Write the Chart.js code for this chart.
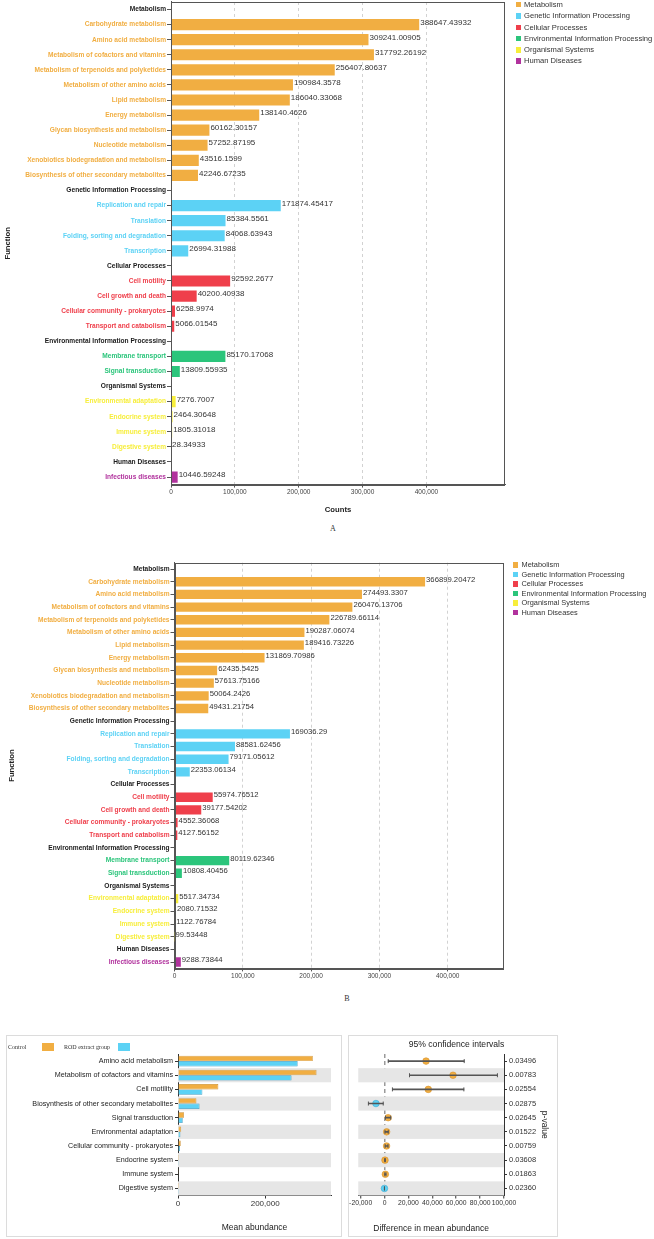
<!DOCTYPE html>
<html>
<head>
<meta charset="utf-8">
<script src="https://cdn.jsdelivr.net/npm/chart.js@4.4.1/dist/chart.umd.min.js"></script>
<style>
  body { margin: 0; width: 654px; height: 1239px; position: relative; overflow: hidden; background: #fff;
         font-family: "Liberation Sans", Arial, sans-serif; }
  canvas, .box, .legend, .tag { position: absolute; }
  .box { border: 1px solid #dcdcdc; box-sizing: border-box; }
  .tag { font-family: "Liberation Serif", serif; font-size: 8px; color: #333; transform: translate(-50%, -50%); }
  .legend div { position: absolute; white-space: nowrap; color: #333; line-height: 1; }
  .legend i { position: absolute; display: block; }
  .serif { font-family: "Liberation Serif", serif; }
</style>
</head>
<body>
<canvas id="chartA" width="654" height="520" style="left:0;top:0"></canvas>
<div class="tag" style="left:333px;top:528px">A</div>
<div class="legend" id="legendA"></div>

<canvas id="chartB" width="654" height="430" style="left:0;top:560px"></canvas>
<div class="tag" style="left:347px;top:998px">B</div>
<div class="legend" id="legendB"></div>

<div class="box" style="left:6px;top:1035px;width:336px;height:202px"></div>
<canvas id="chartC1" width="336" height="202" style="left:6px;top:1035px"></canvas>
<div class="legend serif" id="legendC" style="font-size:6px"></div>

<div class="box" style="left:348px;top:1035px;width:210px;height:202px"></div>
<canvas id="chartC2" width="210" height="202" style="left:348px;top:1035px"></canvas>

<script>
// KEGG level-2 functions, grouped by level-1 category
const groupNames = ["Metabolism", "Genetic Information Processing", "Cellular Processes",
  "Environmental Information Processing", "Organismal Systems", "Human Diseases"];
const groupColors = ["#F1AE42", "#5CD2F5", "#EF3F4B", "#2BC57B", "#F7EE3B", "#B1329D"];

const functionLabels = [
  "Metabolism", "Carbohydrate metabolism", "Amino acid metabolism", "Metabolism of cofactors and vitamins",
  "Metabolism of terpenoids and polyketides", "Metabolism of other amino acids", "Lipid metabolism",
  "Energy metabolism", "Glycan biosynthesis and metabolism", "Nucleotide metabolism",
  "Xenobiotics biodegradation and metabolism", "Biosynthesis of other secondary metabolites",
  "Genetic Information Processing", "Replication and repair", "Translation",
  "Folding, sorting and degradation", "Transcription",
  "Cellular Processes", "Cell motility", "Cell growth and death", "Cellular community - prokaryotes",
  "Transport and catabolism",
  "Environmental Information Processing", "Membrane transport", "Signal transduction",
  "Organismal Systems", "Environmental adaptation", "Endocrine system", "Immune system", "Digestive system",
  "Human Diseases", "Infectious diseases"
];
const rowGroup = [0,0,0,0,0,0,0,0,0,0,0,0, 1,1,1,1,1, 2,2,2,2,2, 3,3,3, 4,4,4,4,4, 5,5];

const countsA = [null, 388647.43932, 309241.00905, 317792.26192, 256407.80637, 190984.3578, 186040.33068,
  138140.4626, 60162.30157, 57252.87195, 43516.1599, 42246.67235,
  null, 171874.45417, 85384.5561, 84068.63943, 26994.31988,
  null, 92592.2677, 40200.40938, 6258.9974, 5066.01545,
  null, 85170.17068, 13809.55935,
  null, 7276.7007, 2464.30648, 1805.31018, 28.34933,
  null, 10446.59248];

const countsB = [null, 366899.20472, 274493.3307, 260476.13706, 226789.66114, 190287.06074, 189416.73226,
  131869.70986, 62435.5425, 57613.75166, 50064.2426, 49431.21754,
  null, 169036.29, 88581.62456, 79171.05612, 22353.06134,
  null, 55974.76512, 39177.54202, 4552.36068, 4127.56152,
  null, 80119.62346, 10808.40456,
  null, 5517.34734, 2080.71532, 1122.76784, 99.53448,
  null, 9288.73844];
const countTicks = [0, 100000, 200000, 300000, 400000];

// STAMP comparison (panel C)
const cLabels = ["Amino acid metabolism", "Metabolism of cofactors and vitamins", "Cell motility",
  "Biosynthesis of other secondary metabolites", "Signal transduction", "Environmental adaptation",
  "Cellular community - prokaryotes", "Endocrine system", "Immune system", "Digestive system"];
const controlMean = [309241, 317792, 92592, 42247, 13810, 7277, 6259, 2464, 1805, 28];
const rodMean = [274493, 260476, 55975, 49431, 10808, 5517, 4552, 2081, 1123, 100];
const meanDiff = [34748, 57316, 36617, -7185, 3001, 1759, 1706, 383, 682, -71];
const ciLow = [3100, 20900, 6600, -13500, 800, 400, 500, 100, 200, -130];
const ciHigh = [66700, 94500, 66400, -1100, 5200, 3100, 2900, 700, 1200, -15];
const pValues = ["0.03496", "0.00783", "0.02554", "0.02875", "0.02645", "0.01522", "0.00759",
  "0.03608", "0.01863", "0.02360"];
const abundanceTicks = [0, 200000];
const diffTicks = [-20000, 0, 20000, 40000, 60000, 80000, 100000];

Chart.defaults.font.family = '"Liberation Sans", Arial, sans-serif';
Chart.defaults.color = '#333';

function labelColor(i) {
  return groupNames.includes(functionLabels[i]) ? '#1a1a1a' : groupColors[rowGroup[i]];
}

const valueLabels = {
  id: 'valueLabels',
  afterDatasetsDraw(chart, args, opts) {
    const ctx = chart.ctx;
    ctx.save();
    ctx.font = opts.size + 'px "Liberation Sans", Arial, sans-serif';
    ctx.fillStyle = '#333';
    ctx.textBaseline = 'middle';
    chart.data.datasets.forEach((ds, di) => {
      chart.getDatasetMeta(di).data.forEach((bar, i) => {
        if (ds.data[i] == null) return;
        ctx.fillText(String(ds.data[i]), bar.x + 1, bar.y - opts.lift);
      });
    });
    ctx.restore();
  }
};

const frame = {
  id: 'frame',
  afterDraw(chart) {
    const {left, top, right, bottom} = chart.chartArea;
    const ctx = chart.ctx;
    ctx.save();
    ctx.strokeStyle = '#555';
    ctx.lineWidth = 1;
    ctx.strokeRect(Math.round(left) + 0.5, Math.round(top) + 0.5,
      Math.round(right - left) - 1, Math.round(bottom - top));
    ctx.restore();
  }
};

const bands = {
  id: 'bands',
  beforeDatasetsDraw(chart) {
    const y = chart.scales.y;
    const {left, right} = chart.chartArea;
    const h = y.height / cLabels.length;
    const ctx = chart.ctx;
    ctx.save();
    ctx.fillStyle = '#E6E6E6';
    cLabels.forEach((c, i) => {
      if (i % 2 === 1) ctx.fillRect(left, y.getPixelForValue(i) - h / 2, right - left, h);
    });
    ctx.restore();
  }
};

function countChart(id, values, o) {
  return new Chart(document.getElementById(id), {
    type: 'bar',
    data: {
      labels: functionLabels,
      datasets: groupNames.map((g, gi) => ({
        label: g,
        data: values.map((v, i) => rowGroup[i] === gi ? v : null),
        backgroundColor: groupColors[gi],
        grouped: false,
        categoryPercentage: 0.74,
        barPercentage: 1
      }))
    },
    options: {
      indexAxis: 'y',
      responsive: false,
      animation: false,
      events: [],
      layout: { padding: { top: o.top, right: o.right, left: 0, bottom: 0 } },
      plugins: {
        legend: { display: false },
        tooltip: { enabled: false },
        valueLabels: { size: o.valueSize, lift: 2 }
      },
      scales: {
        x: {
          min: 0, max: o.max,
          ticks: { font: { size: 6.5 }, color: '#444', padding: 1, callback: v => v.toLocaleString('en-US') },
          afterBuildTicks: s => { s.ticks = countTicks.map(v => ({ value: v })); },
          grid: { color: c => (c.tick && c.tick.value === 0) ? 'transparent' : '#d2d2d2',
                  tickColor: '#555', tickLength: 3 },
          border: { color: '#555', dash: [3, 3] },
          title: { display: o.xTitle, text: 'Counts', color: '#222',
                   font: { size: 7.7, weight: 'bold' }, padding: { top: 0, bottom: 5 } },
          afterFit: s => { s.height = o.xHeight; }
        },
        y: {
          offset: true,
          ticks: { autoSkip: false, font: { size: 6.6, weight: 'bold', lineHeight: 0.3 },
                   color: c => labelColor(c.index), padding: 1 },
          grid: { offset: false, drawOnChartArea: false, color: '#555', tickLength: 4 },
          border: { color: '#555' },
          title: { display: true, text: 'Function', color: '#222',
                   font: { size: 7.7, weight: 'bold' }, padding: { top: o.titlePad, bottom: 0 } },
          afterFit: s => { s.width = o.yWidth; }
        }
      }
    },
    plugins: [valueLabels, frame]
  });
}

function htmlLegend(id, x, y0, step, size, font) {
  const el = document.getElementById(id);
  el.style.fontSize = font + 'px';
  groupNames.forEach((g, i) => {
    const cy = y0 + i * step;
    el.insertAdjacentHTML('beforeend',
      `<i style="left:${x}px;top:${cy - size / 2}px;width:${size}px;height:${size}px;background:${groupColors[i]}"></i>` +
      `<div style="left:${x + size + 3}px;top:${cy - font / 2}px">${g}</div>`);
  });
}

countChart('chartA', countsA, { top: 1.5, right: 149, max: 523000, xHeight: 35.4, yWidth: 171,
  titlePad: 3.4, valueSize: 8, xTitle: true });
countChart('chartB', countsB, { top: 2.7, right: 151, max: 481000, xHeight: 21.6, yWidth: 174.5,
  titlePad: 7.4, valueSize: 7.7, xTitle: false });
htmlLegend('legendA', 515.5, 4.7, 11.3, 5.5, 7.6);
htmlLegend('legendB', 513.3, 565, 9.5, 5.2, 7.4);

// legend of panel C (text before swatch)
document.getElementById('legendC').innerHTML =
  '<div style="left:8px;top:1043.7px">Control</div>' +
  '<i style="left:42px;top:1042.7px;width:12px;height:8.6px;background:' + groupColors[0] + '"></i>' +
  '<div style="left:64px;top:1043.7px">ROD extract group</div>' +
  '<i style="left:118px;top:1042.7px;width:12px;height:8.6px;background:' + groupColors[1] + '"></i>';

new Chart(document.getElementById('chartC1'), {
  type: 'bar',
  data: {
    labels: cLabels,
    datasets: [
      { label: 'Control', data: controlMean, backgroundColor: '#F1AE42', borderColor: '#C98A2A', borderWidth: 0.7,
        categoryPercentage: 0.76, barPercentage: 1 },
      { label: 'ROD extract group', data: rodMean, backgroundColor: '#5CD2F5', borderColor: '#3C98BE', borderWidth: 0.7,
        categoryPercentage: 0.76, barPercentage: 1 }
    ]
  },
  options: {
    indexAxis: 'y',
    responsive: false,
    animation: false,
    events: [],
    layout: { padding: { top: 19, right: 11, left: 0, bottom: 0 } },
    plugins: { legend: { display: false }, tooltip: { enabled: false } },
    scales: {
      x: {
        min: 0, max: 351000,
        ticks: { font: { size: 8 }, color: '#333', padding: 0, callback: v => v.toLocaleString('en-US') },
        afterBuildTicks: s => { s.ticks = abundanceTicks.map(v => ({ value: v })); },
        grid: { drawOnChartArea: false, color: '#333', tickLength: 3 },
        border: { color: '#333' },
        title: { display: true, text: 'Mean abundance', color: '#222', font: { size: 8.5 },
                 padding: { top: 0, bottom: 3.9 } },
        afterFit: s => { s.height = 41.5; }
      },
      y: {
        offset: true,
        ticks: { autoSkip: false, font: { size: 7.2, lineHeight: 0.3 }, color: '#222', padding: 2 },
        grid: { offset: false, drawOnChartArea: false, color: '#333', tickLength: 3 },
        border: { color: '#333' },
        afterFit: s => { s.width = 172; }
      }
    }
  },
  plugins: [bands]
});

const pointFill = meanDiff.map(d => d >= 0 ? '#F1AE42' : '#5CD2F5');
const pointEdge = meanDiff.map(d => d >= 0 ? '#D8922A' : '#3FA9D0');

new Chart(document.getElementById('chartC2'), {
  type: 'bar',
  data: {
    labels: cLabels,
    datasets: [
      { type: 'scatter', label: 'caps', xAxisID: 'x', yAxisID: 'y',
        data: cLabels.flatMap((c, i) => [{ x: ciLow[i], y: c }, { x: ciHigh[i], y: c }]),
        pointStyle: 'line', rotation: 90, radius: 2, borderColor: '#555', borderWidth: 1 },
      { type: 'bar', label: 'ci', xAxisID: 'x', yAxisID: 'y', indexAxis: 'y',
        data: cLabels.map((c, i) => [ciLow[i], ciHigh[i]]),
        backgroundColor: '#555', barThickness: 1 },
      { type: 'scatter', label: 'diff', xAxisID: 'x', yAxisID: 'y',
        data: cLabels.map((c, i) => ({ x: meanDiff[i], y: c })),
        radius: 3.3, backgroundColor: pointFill, borderColor: pointEdge, borderWidth: 0.6 }
    ]
  },
  options: {
    indexAxis: 'y',
    responsive: false,
    animation: false,
    events: [],
    layout: { padding: { top: 0, right: 0, left: 7, bottom: 0 } },
    plugins: {
      legend: { display: false },
      tooltip: { enabled: false },
      title: { display: true, text: '95% confidence intervals', color: '#222', font: { size: 8.6, weight: 'normal' },
               padding: { top: 4.8, bottom: 3.9 } }
    },
    scales: {
      x: {
        type: 'linear', min: -22000, max: 100000,
        ticks: { font: { size: 6.8 }, color: '#333', padding: 1,
                 maxRotation: 0, autoSkip: false, callback: v => v.toLocaleString('en-US') },
        afterBuildTicks: s => { s.ticks = diffTicks.map(v => ({ value: v })); },
        grid: { color: c => (c.tick && c.tick.value === 0) ? '#9a9a9a' : 'transparent', lineWidth: 1.5,
                tickColor: '#333', tickWidth: 1, tickLength: 3 },
        border: { color: '#333', dash: [4, 3] },
        title: { display: true, text: 'Difference in mean abundance', color: '#222', font: { size: 8.5 },
                 padding: { top: 0, bottom: 3.6 } },
        afterFit: s => { s.height = 41.5; }
      },
      y: {
        type: 'category', position: 'right', offset: true,
        ticks: { autoSkip: false, font: { size: 7.5, lineHeight: 0.3 }, color: '#333', padding: 2,
                 callback: (v, i) => pValues[i] },
        grid: { offset: false, drawOnChartArea: false, color: '#333', tickLength: 3 },
        border: { color: '#333' },
        title: { display: true, text: 'p-value', color: '#222', font: { size: 8.5 },
                 padding: { top: 8.9, bottom: 0 } },
        afterFit: s => { s.width = 54; }
      }
    }
  },
  plugins: [bands]
});
</script>
</body>
</html>
